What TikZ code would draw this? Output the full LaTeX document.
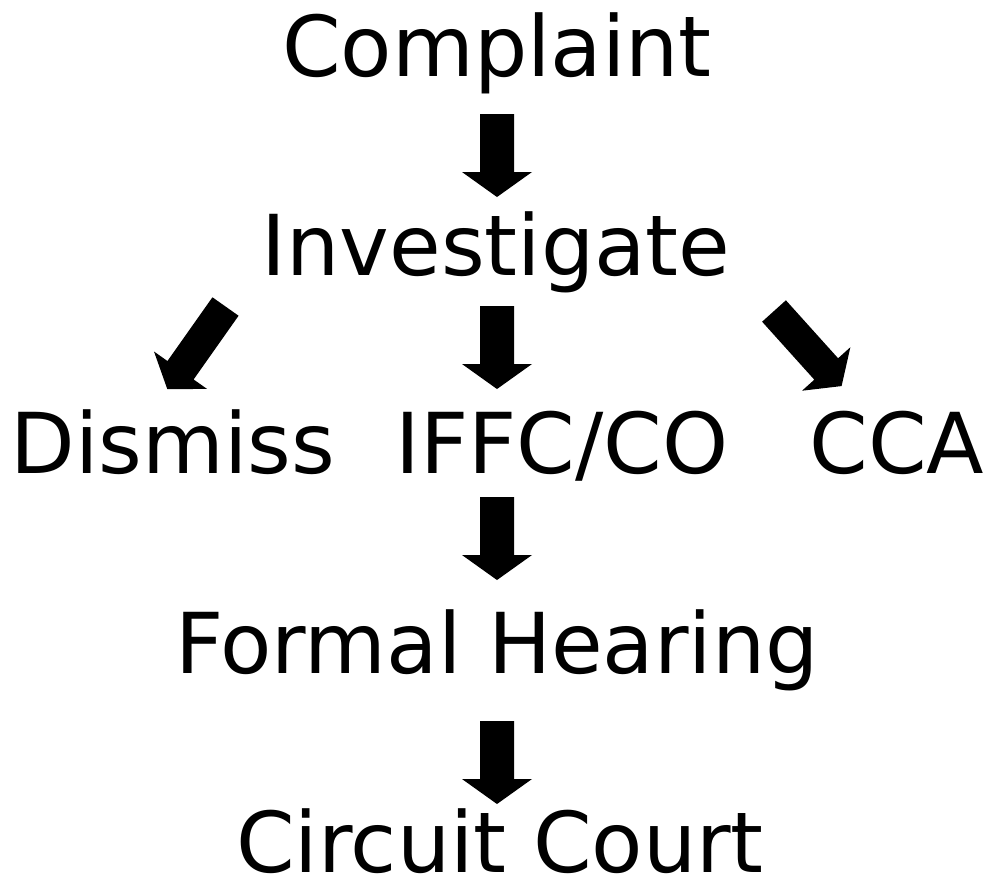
\documentclass[tikz,border=0pt]{standalone}
\usepackage{fontspec}
\setmainfont{DejaVu Sans}
\tikzset{
  lbl/.style={anchor=base, inner sep=0pt, font=\fontsize{84}{100}\selectfont},
  varrow/.pic={\fill[black] (-17,0) -- (17,0) -- (17,58) -- (35,58) -- (0,83) -- (-35,58) -- (-17,58) -- cycle;},
  darrow/.pic={\fill[black] (-16,0) -- (16,0) -- (16,78) -- (32.5,78) -- (0,101) -- (-32.5,78) -- (-16,78) -- cycle;}
}
\begin{document}
\begin{tikzpicture}[x=1pt,y=-1pt]
\useasboundingbox (0,0) rectangle (992,879);
\node[lbl] (complaint) at (497,76) {Complaint};
\node[lbl] (investigate) at (496,275) {Investigate};
\node[lbl] (dismiss) at (173,473) {Dismiss};
\node[lbl] (iffc) at (562,473) {IFFC/CO};
\node[lbl] (cca) at (897,473) {CCA};
\node[lbl] (formal) at (497,673) {Formal Hearing};
\node[lbl] (circuit) at (500,872) {Circuit Court};
\coordinate (a1) at (497,114);
\coordinate (a2) at (497,306);
\coordinate (a3) at (497,497);
\coordinate (a4) at (497,721);
\coordinate (al) at (225.5,306.5);
\coordinate (ar) at (774,311);
\pic at (a1) {varrow};
\pic at (a2) {varrow};
\pic at (a3) {varrow};
\pic at (a4) {varrow};
\pic[rotate=-35.2] at (al) {darrow};
\pic[rotate=42] at (ar) {darrow};
\end{tikzpicture}
\end{document}
